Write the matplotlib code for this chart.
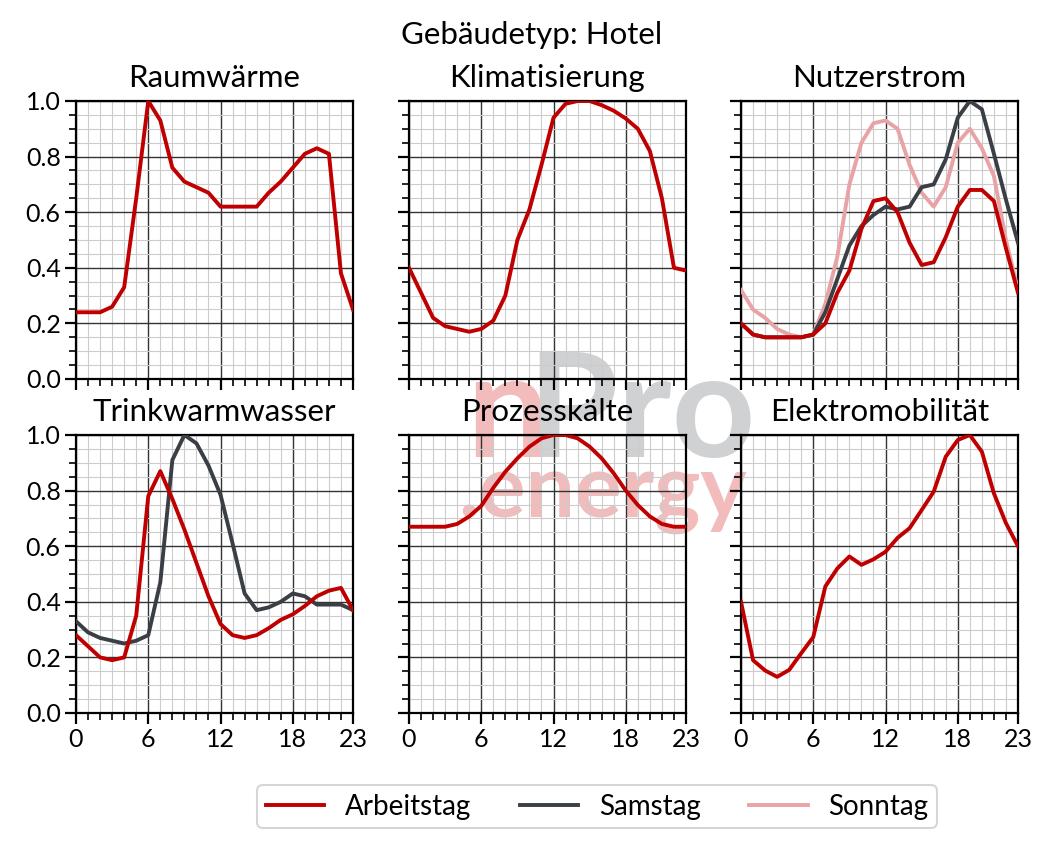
import matplotlib
matplotlib.use("Agg")
import matplotlib.pyplot as plt
from matplotlib.ticker import MultipleLocator
from matplotlib.lines import Line2D

plt.rcParams['font.family'] = ['Lato', 'DejaVu Sans']

hours = list(range(24))
series_names = ["Arbeitstag", "Samstag", "Sonntag"]
colors = {"Arbeitstag": "#C00000", "Samstag": "#3A3E45", "Sonntag": "#E8A3A6"}

raumwaerme_arbeitstag = [0.24, 0.24, 0.24, 0.26, 0.33, 0.65, 1.00, 0.93, 0.76, 0.71, 0.69, 0.67,
                         0.62, 0.62, 0.62, 0.62, 0.67, 0.71, 0.76, 0.81, 0.83, 0.81, 0.38, 0.25]

klima_arbeitstag = [0.40, 0.31, 0.22, 0.19, 0.18, 0.17, 0.18, 0.21, 0.30, 0.50, 0.61, 0.77,
                    0.94, 0.99, 1.00, 1.00, 0.985, 0.965, 0.937, 0.90, 0.82, 0.65, 0.40, 0.39]

nutzer_arbeitstag = [0.20, 0.16, 0.15, 0.15, 0.15, 0.15, 0.16, 0.20, 0.31, 0.39, 0.54, 0.64,
                     0.65, 0.60, 0.49, 0.41, 0.42, 0.51, 0.62, 0.68, 0.68, 0.64, 0.47, 0.31]
nutzer_samstag = [0.20, 0.16, 0.15, 0.15, 0.15, 0.15, 0.16, 0.24, 0.36, 0.48, 0.55, 0.59,
                  0.62, 0.61, 0.62, 0.69, 0.70, 0.79, 0.94, 1.00, 0.97, 0.81, 0.645, 0.49]
nutzer_sonntag = [0.32, 0.25, 0.22, 0.18, 0.16, 0.15, 0.16, 0.27, 0.44, 0.70, 0.85, 0.92,
                  0.93, 0.90, 0.77, 0.67, 0.62, 0.69, 0.85, 0.90, 0.83, 0.73, 0.50, 0.32]

tww_arbeitstag = [0.28, 0.24, 0.20, 0.19, 0.20, 0.35, 0.78, 0.87, 0.77, 0.66, 0.54, 0.42,
                  0.32, 0.28, 0.27, 0.28, 0.305, 0.335, 0.355, 0.385, 0.42, 0.44, 0.45, 0.37]
tww_samstag = [0.33, 0.29, 0.27, 0.26, 0.25, 0.26, 0.28, 0.47, 0.91, 1.00, 0.97, 0.89,
               0.785, 0.61, 0.43, 0.37, 0.38, 0.40, 0.43, 0.42, 0.39, 0.39, 0.39, 0.37]

prozess_arbeitstag = [0.67, 0.67, 0.67, 0.67, 0.68, 0.707, 0.745, 0.81, 0.868, 0.916, 0.958, 0.988,
                      1.00, 1.00, 0.988, 0.958, 0.916, 0.862, 0.80, 0.748, 0.707, 0.68, 0.67, 0.67]

emob_arbeitstag = [0.40, 0.19, 0.153, 0.13, 0.155, 0.215, 0.273, 0.455, 0.52, 0.563, 0.533, 0.553,
                   0.58, 0.63, 0.665, 0.73, 0.796, 0.922, 0.982, 1.00, 0.94, 0.79, 0.683, 0.60]

panels = [
    ("Raumwärme", {"Arbeitstag": raumwaerme_arbeitstag}),
    ("Klimatisierung", {"Arbeitstag": klima_arbeitstag}),
    ("Nutzerstrom", {"Sonntag": nutzer_sonntag, "Samstag": nutzer_samstag, "Arbeitstag": nutzer_arbeitstag}),
    ("Trinkwarmwasser", {"Samstag": tww_samstag, "Arbeitstag": tww_arbeitstag}),
    ("Prozesskälte", {"Arbeitstag": prozess_arbeitstag}),
    ("Elektromobilität", {"Arbeitstag": emob_arbeitstag}),
]

xticks = [0, 6, 12, 18, 23]
yticks = [0.0, 0.2, 0.4, 0.6, 0.8, 1.0]

W, H = 1052, 850
fig = plt.figure(figsize=(W / 100, H / 100), dpi=100)

lefts = [76, 409, 741]
tops = [101, 435]
aw, ah = 277, 278

for i, (title, data) in enumerate(panels):
    r, c = divmod(i, 3)
    ax = fig.add_axes([lefts[c] / W, 1 - (tops[r] + ah) / H, aw / W, ah / H])
    ax.set_facecolor('none')
    for name, vals in data.items():
        ax.plot(hours, vals, color=colors[name], lw=2.8, zorder=3, solid_joinstyle='round')
    ax.set_xlim(0, 23)
    ax.set_ylim(0, 1)
    ax.set_xticks(xticks)
    ax.set_yticks(yticks)
    ax.xaxis.set_minor_locator(MultipleLocator(1))
    ax.yaxis.set_minor_locator(MultipleLocator(0.05))
    ax.grid(which='major', color='#333333', lw=1.0, zorder=1)
    ax.grid(which='minor', color='#CCCCCC', lw=0.8, zorder=0)
    ax.set_axisbelow(True)
    for s in ax.spines.values():
        s.set_linewidth(1.6)
        s.set_color('black')
    ax.tick_params(which='major', length=8, width=1.6, labelsize=18, pad=3)
    ax.tick_params(which='minor', length=5, width=1.2)
    if r == 0:
        ax.set_xticklabels([])
    else:
        ax.set_xticklabels([str(t) for t in xticks])
    if c != 0:
        ax.set_yticklabels([])
    else:
        ax.set_yticklabels([f"{t:.1f}" for t in yticks])
    ax.set_title(title, fontsize=22.5, pad=10)

fig.text(532 / W, 1 - 35 / H, "Gebäudetyp: Hotel", ha='center', va='center', fontsize=22.5)

# watermark (behind the axes)
fig.text(466 / W, 1 - 457 / H, "n", color='#F2BCBD', fontsize=105, fontweight='bold',
         ha='left', va='baseline', zorder=-5)
fig.text(527 / W, 1 - 457 / H, "Pro", color='#D0D1D3', fontsize=105, fontweight='bold',
         ha='left', va='baseline', zorder=-5)
fig.text(602 / W, 1 - 517 / H, ".energy", color='#F2BCBD', fontsize=63, fontweight='bold',
         ha='center', va='baseline', zorder=-5)

handles = [Line2D([0], [0], color=colors[n], lw=2.8) for n in series_names]
leg = fig.legend(handles, series_names, loc='center', bbox_to_anchor=(597 / W, 1 - 806.5 / H),
                 ncol=3, fontsize=20, frameon=True, fancybox=True, edgecolor='#CCCCCC',
                 handlelength=2.1, columnspacing=1.75, handletextpad=0.75, borderpad=0.3,
                 borderaxespad=0)
leg.get_frame().set_linewidth(1.5)

fig.savefig("out.png", dpi=100)
